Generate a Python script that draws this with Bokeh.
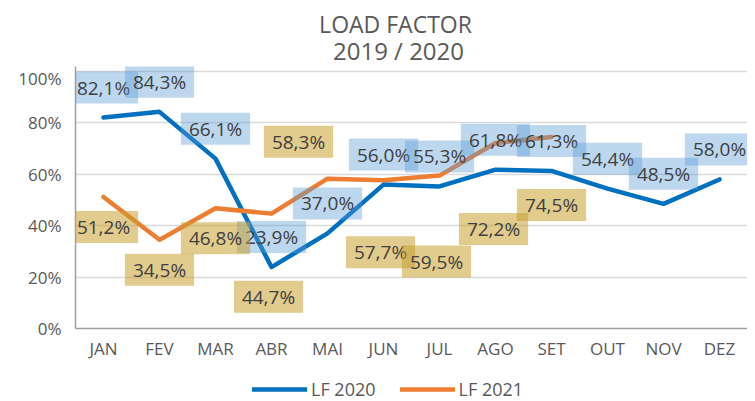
from bokeh.plotting import figure
from bokeh.layouts import column
from bokeh.models import (ColumnDataSource, Label, Legend, LegendItem,
                          Range1d, FactorRange, FixedTicker, PrintfTickFormatter)
from bokeh.embed import file_html
from bokeh.resources import INLINE

# ---- data ----
months = ["JAN", "FEV", "MAR", "ABR", "MAI", "JUN", "JUL", "AGO", "SET", "OUT", "NOV", "DEZ"]
lf2020 = [82.1, 84.3, 66.1, 23.9, 37.0, 56.0, 55.3, 61.8, 61.3, 54.4, 48.5, 58.0]
lf2021 = [51.2, 34.5, 46.8, 44.7, 58.3, 57.7, 59.5, 72.2, 74.5]
y_ticks = [0, 20, 40, 60, 80, 100]
title_main = "LOAD FACTOR"
title_sub = "2019 / 2020"
series_names = ["LF 2020", "LF 2021"]

# ---- label placement (screen pixels, positive = up / right) ----
off2020_y = [30] * 12
off2021_y = [-30, -30, -30, -83, 37, -72, -86, -86, -68]
off2021_x = [0, 0, 0, -3, -29, -3, -3, -2, 0]

FONT = "Open Sans"
BLUE = "#0070C0"
ORANGE = "#ED7D31"
TXT = "#595959"
LEFT = 75
W = 747
TOP = 66

def strip(height, x_range, y_range):
    f = figure(width=W, height=height, x_range=x_range, y_range=y_range,
               output_backend="svg", toolbar_location=None, title=None,
               x_axis_location=None, y_axis_location=None, min_border=0,
               min_border_left=LEFT)
    f.grid.visible = False
    f.outline_line_color = None
    return f

# ---- title block (pixel coordinates) ----
pt = strip(TOP, Range1d(LEFT, W), Range1d(TOP, 0))
pt.add_layout(Label(x=395, y=23, text=title_main, text_align="center", text_baseline="middle",
                    text_font=FONT, text_font_size="23px", text_color=TXT))
pt.add_layout(Label(x=398, y=50, text=title_sub, text_align="center", text_baseline="middle",
                    text_font=FONT, text_font_size="24px", text_color=TXT))

# ---- main chart ----
xr = FactorRange(*months)
p = figure(frame_width=W - LEFT, frame_height=262, x_range=xr, y_range=Range1d(0, 101.95),
           output_backend="svg", toolbar_location=None, title=None,
           min_border_left=LEFT, min_border_right=0, min_border_top=0, min_border_bottom=36)
p.outline_line_color = None

p.yaxis.ticker = FixedTicker(ticks=y_ticks)
p.yaxis.formatter = PrintfTickFormatter(format="%d%%")
for ax in (p.xaxis, p.yaxis):
    ax.major_tick_line_color = None
    ax.minor_tick_line_color = None
    ax.major_tick_out = 0
    ax.major_tick_in = 0
    ax.major_label_text_font = FONT
    ax.major_label_text_font_size = "17px"
    ax.major_label_text_color = TXT
    ax.axis_line_color = "#A0A0A0"
    ax.axis_line_width = 1.5
p.yaxis.major_label_standoff = 14
p.xaxis.major_label_standoff = 8
p.xgrid.grid_line_color = None
p.ygrid.grid_line_color = "#D9D9D9"
p.ygrid.grid_line_width = 1.5

src20 = ColumnDataSource(dict(x=months, y=lf2020))
src21 = ColumnDataSource(dict(x=months[:len(lf2021)], y=lf2021))
line_style20 = dict(line_color=BLUE, line_width=4.5, line_join="round", line_cap="round")
line_style21 = dict(line_color=ORANGE, line_width=4.5, line_join="round", line_cap="round")
p.line("x", "y", source=src20, **line_style20)
p.line("x", "y", source=src21, **line_style21)

def fmt(v):
    return f"{v:.1f}".replace(".", ",") + "%"

def add_label(i, y, dx, dy, fill, alpha):
    # categorical synthetic coordinate: factor i is centred at i + 0.5
    p.add_layout(Label(x=i + 0.5, y=y, x_offset=dx, y_offset=dy, text=fmt(y),
                       text_align="center", text_baseline="middle",
                       text_font=FONT, text_font_size="19px", text_color="#404040",
                       background_fill_color=fill, background_fill_alpha=alpha,
                       padding={"left": 8, "right": 8, "top": 3, "bottom": 3}))

for i, (v, dy) in enumerate(zip(lf2020, off2020_y)):
    add_label(i, v, 0, dy, "#5B9BD5", 0.4)
for i, (v, dx, dy) in enumerate(zip(lf2021, off2021_x, off2021_y)):
    add_label(i, v, dx, dy, "#C8A030", 0.55)

# ---- legend strip: keys drawn from the same series (their y range hides the lines) ----
pl = strip(37, xr, Range1d(200, 300))
k20 = pl.line("x", "y", source=src20, **line_style20)
k21 = pl.line("x", "y", source=src21, **line_style21)
legend = Legend(items=[LegendItem(label=series_names[0], renderers=[k20]),
                       LegendItem(label=series_names[1], renderers=[k21])],
                orientation="horizontal", location=(177, 0),
                label_text_font=FONT, label_text_font_size="18px", label_text_color=TXT,
                glyph_width=55, glyph_height=18, label_height=18, label_standoff=4,
                spacing=24, border_line_color=None, background_fill_alpha=0,
                padding=0, margin=0)
pl.add_layout(legend, "center")

layout = column(pt, p, pl, spacing=0)
open("out.html", "w").write(file_html(layout, INLINE))
